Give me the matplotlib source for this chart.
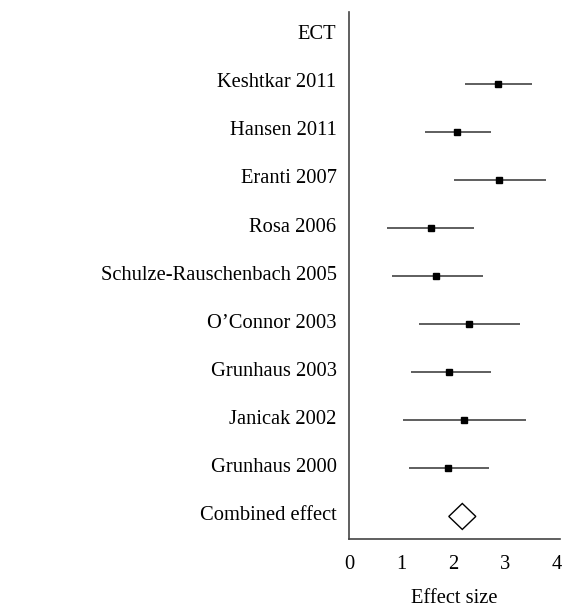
import numpy as np
import matplotlib.pyplot as plt
import matplotlib.transforms as mtrans

plt.rcParams['font.family'] = ['Liberation Serif', 'DejaVu Serif']

studies = ['Keshtkar 2011', 'Hansen 2011', 'Eranti 2007', 'Rosa 2006',
           'Schulze-Rauschenbach 2005', 'O\u2019Connor 2003', 'Grunhaus 2003',
           'Janicak 2002', 'Grunhaus 2000']
effect = [2.87, 2.08, 2.89, 1.58, 1.68, 2.31, 1.92, 2.22, 1.91]
ci_low = [2.24, 1.47, 2.03, 0.74, 0.83, 1.35, 1.20, 1.03, 1.15]
ci_high = [3.53, 2.74, 3.80, 2.40, 2.57, 3.30, 2.74, 3.41, 2.69]

combined = 2.18
combined_low = 1.92
combined_high = 2.44

labels = ['ECT'] + studies + ['Combined effect']

fig = plt.figure(figsize=(5.64, 6.09), dpi=100)
ax = fig.add_axes([0.6188, 0.1149, 0.3741, 0.8654])

n = len(labels)
ypos = np.arange(n)[::-1]          # ECT on top, combined at 0
study_y = ypos[1:-1]

ax.hlines(study_y, ci_low, ci_high, color='#333333', lw=1.1, zorder=2)
ax.plot(effect, study_y, 's', color='black', ms=5, zorder=3)

# diamond for the pooled estimate
h = 0.27
ax.fill([combined_low, combined, combined_high, combined],
        [0, h, 0, -h], facecolor='white', edgecolor='black', lw=1.0, zorder=3)

ax.set_xlim(0, 4.06)
ax.set_ylim(-0.47, 10.5)
ax.set_xticks([0, 1, 2, 3, 4])
ax.set_yticks(ypos)
ax.set_yticklabels(labels, va='bottom')
ax.tick_params(axis='both', length=0, labelsize=14.8)
ax.tick_params(axis='x', pad=11.5)
ax.tick_params(axis='y', pad=9)
ax.set_xlabel('Effect size', fontsize=14.8, labelpad=11)

# row labels sit a little above their line
off = mtrans.ScaledTranslation(0, -6 / 72, fig.dpi_scale_trans)
for t in ax.get_yticklabels():
    t.set_transform(t.get_transform() + off)

for s in ['top', 'right']:
    ax.spines[s].set_visible(False)
for s in ['left', 'bottom']:
    ax.spines[s].set_color('#444444')
    ax.spines[s].set_linewidth(1.2)

fig.savefig('out.png', dpi=100)
